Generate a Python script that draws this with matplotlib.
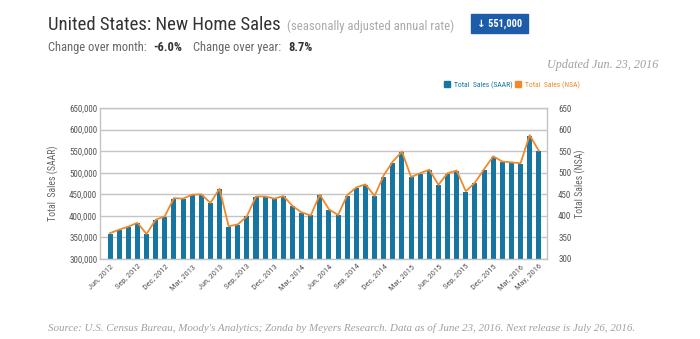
import matplotlib
matplotlib.use("Agg")
import matplotlib.pyplot as plt
from matplotlib import font_manager as fm
import numpy as np

month_names = ["Jan", "Feb", "Mar", "Apr", "May", "Jun", "Jul", "Aug", "Sep", "Oct", "Nov", "Dec"]
labels = []
for i in range(48):
    m = (5 + i) % 12
    y = 2012 + (5 + i) // 12
    labels.append(month_names[m] + ", " + str(y))

saar = [359, 367, 374, 384, 357, 390, 398, 440, 438, 448,
        449, 429, 462, 375, 379, 399, 444, 444, 439, 445,
        422, 407, 401, 449, 414, 401, 447, 465, 472, 445,
        490, 523, 548, 489, 498, 507, 471, 498, 504, 456,
        476, 507, 536, 525, 523, 521, 586, 551]
saar = [v * 1000 for v in saar]
nsa = [360, 368, 375, 384, 358, 391, 399, 441, 440, 449,
       450, 430, 463, 376, 380, 399, 445, 445, 440, 446,
       423, 408, 401, 449, 415, 402, 448, 466, 473, 446,
       494, 526, 549, 490, 499, 507, 472, 499, 505, 457,
       477, 508, 538, 526, 524, 522, 587, 551]

tick_idx = list(range(0, 48, 3)) + [47]
left_ticks = [300000, 350000, 400000, 450000, 500000, 550000, 600000, 650000]
right_ticks = [300, 350, 400, 450, 500, 550, 600, 650]

names = {f.name for f in fm.fontManager.ttflist}
cname = 'Roboto'
for cand in ['Roboto Condensed', 'Archivo Narrow', 'Liberation Sans Narrow', 'Barlow Semi Condensed', 'Asap Condensed']:
    if cand in names:
        cname = cand
        break
cond = [cname, 'DejaVu Sans']
serif = ['Liberation Serif', 'DejaVu Serif']

BLUE = '#17769f'
ORANGE = '#f0892c'

fig = plt.figure(figsize=(7, 3.39), dpi=100)
W, H = 700, 339

ax = fig.add_axes([100 / W, 1 - 259 / H, 447 / W, 151 / H])
x = np.arange(48)
ax.bar(x, saar, width=0.55, color=BLUE, zorder=2)
ax.set_ylim(300000, 650000)
ax.set_xlim(-1.1, 47.9)
ax.set_yticks(left_ticks)
ax.set_yticklabels([f"{v:,}" for v in left_ticks], fontsize=6.5, color='#555555', family=cond)
ax.yaxis.grid(True, color='#c4c4c4', lw=1, zorder=0)
ax.set_axisbelow(True)
ax.tick_params(axis='y', length=0, pad=2)
ax.tick_params(axis='x', length=0, pad=3)
ax.set_xticks(tick_idx)
ax.set_xticklabels([labels[i] for i in tick_idx], rotation=45, ha='right', rotation_mode='anchor',
                   fontsize=6, color='#555555', family=cond)
for s in ax.spines.values():
    s.set_color('#c4c4c4')
    s.set_linewidth(1)
ax.set_ylabel("Total  Sales (SAAR)", fontsize=7, color='#666666', family=cond, labelpad=7.5)

ax2 = ax.twinx()
ax2.plot(x, nsa, color=ORANGE, lw=1.3, zorder=3)
ax2.set_ylim(300, 650)
ax2.set_yticks(right_ticks)
ax2.set_yticklabels([str(v) for v in right_ticks], fontsize=6.5, color='#555555', family=cond)
ax2.tick_params(axis='y', length=0, pad=8)
for s in ax2.spines.values():
    s.set_visible(False)
ax2.set_ylabel("Total Sales (NSA)", fontsize=7, color='#666666', family=cond, labelpad=2)

renderer = fig.canvas.get_renderer()

def place(xpx, ypx, txt, **kw):
    t = fig.text(xpx / W, 1 - ypx / H, txt, va='baseline', ha='left', **kw)
    bb = t.get_window_extent(renderer=renderer)
    return bb.x1

# Title
xe = place(48, 30, "United States: New Home Sales", fontsize=13.5, color='#333333', family=cond)
place(xe + 6, 30, "(seasonally adjusted annual rate)", fontsize=9.2, color='#aaaaaa', family=cond)

# badge
bx0, bx1, by0, by1 = 471, 528, 14, 33
fig.patches.append(plt.Rectangle((bx0 / W, 1 - by1 / H), (bx1 - bx0) / W, (by1 - by0) / H,
                                 transform=fig.transFigure, color='#1d5ca8', zorder=1))
fig.text((bx0 + bx1) / 2 / W, 1 - (by0 + by1) / 2 / H, "\u2193 551,000", ha='center', va='center',
         fontsize=7.5, color='white', fontweight='bold', family=cond)

# change line
fs = 9
xe = place(48, 51, "Change over month:", fontsize=fs, color='#666666', family=cond)
xe = place(xe + 7, 51, "-6.0%", fontsize=fs, color='#333333', fontweight='bold', family=cond)
xe = place(xe + 10, 51, "Change over year:", fontsize=fs, color='#666666', family=cond)
place(xe + 8, 51, "8.7%", fontsize=fs, color='#333333', fontweight='bold', family=cond)

fig.text(658 / W, 1 - 68 / H, "Updated Jun. 23, 2016", ha='right', va='baseline', fontsize=8.7,
         style='italic', color='#a0a0a0', family=serif)

# legend
fig.patches.append(plt.Rectangle((444 / W, 1 - 87.5 / H), 6 / W, 6 / H, transform=fig.transFigure,
                                 color=BLUE))
place(454, 87, "Total  Sales (SAAR)", fontsize=5.5, color=BLUE, family=cond)
fig.patches.append(plt.Rectangle((515 / W, 1 - 87.5 / H), 6 / W, 6 / H, transform=fig.transFigure,
                                 color=ORANGE))
place(525, 87, "Total  Sales (NSA)", fontsize=5.5, color=ORANGE, family=cond)

fig.text(342 / W, 1 - 331 / H,
         "Source: U.S. Census Bureau, Moody's Analytics; Zonda by Meyers Research. Data as of June 23, 2016. Next release is July 26, 2016.",
         ha='center', va='baseline', fontsize=7.9, style='italic', color='#a0a0a0', family=serif)

fig.savefig("out.png", dpi=100)
